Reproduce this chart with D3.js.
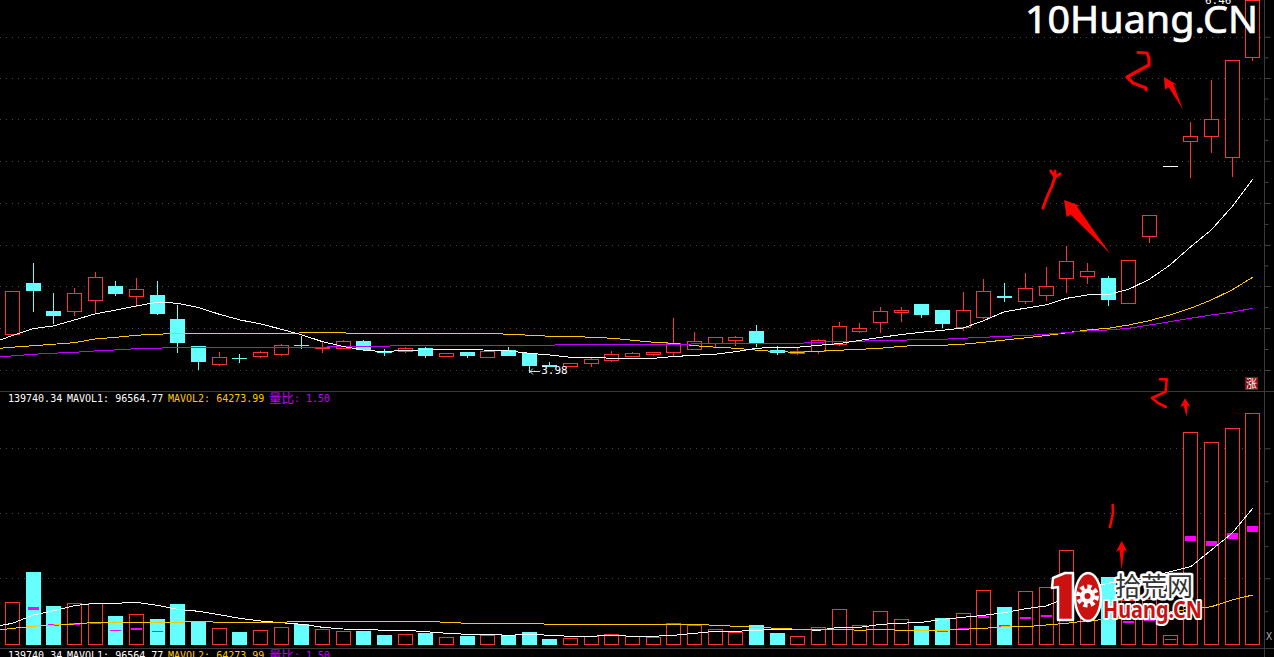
<!DOCTYPE html>
<html lang="en">
<head>
<meta charset="UTF-8">
<title>10Huang volume and price chart</title>
<script src="https://d3js.org/d3.v7.min.js"></script>
<style>
    html, body { margin: 0; padding: 0; background: #000; overflow: hidden; }
    svg { display: block; }
</style>
</head>
<body>
<svg width="1274" height="657"></svg>
<script>
// daily candles
const open = [4.236,4.578,4.385,4.387,4.460,4.558,4.487,4.498,4.332,4.158,4.034,4.076,4.087,4.100,4.163,4.142,4.143,4.185,4.123,4.120,4.143,4.087,4.112,4.080,4.130,4.110,4.027,4.020,4.043,4.063,4.087,4.100,4.116,4.136,4.174,4.194,4.252,4.130,4.105,4.120,4.167,4.254,4.314,4.380,4.438,4.392,4.280,4.347,4.487,4.454,4.496,4.607,4.620,4.605,4.443,4.890,5.358,5.523,5.556,5.416,6.083];
const close = [4.523,4.527,4.360,4.510,4.616,4.505,4.536,4.374,4.180,4.054,4.083,4.073,4.116,4.163,4.160,4.145,4.190,4.138,4.114,4.143,4.094,4.110,4.094,4.123,4.094,4.027,4.024,4.043,4.070,4.103,4.110,4.116,4.176,4.190,4.216,4.216,4.180,4.114,4.123,4.196,4.290,4.276,4.390,4.396,4.367,4.305,4.396,4.523,4.484,4.543,4.556,4.723,4.656,4.467,4.730,5.030,5.358,5.556,5.670,6.063,6.465];
const high = [4.523,4.712,4.512,4.547,4.652,4.592,4.612,4.592,4.432,4.158,4.118,4.105,4.125,4.172,4.225,4.185,4.198,4.198,4.138,4.152,4.152,4.110,4.112,4.123,4.152,4.110,4.052,4.043,4.078,4.125,4.118,4.116,4.343,4.250,4.216,4.225,4.298,4.158,4.143,4.205,4.318,4.312,4.418,4.418,4.438,4.392,4.518,4.603,4.576,4.643,4.685,4.825,4.710,4.625,4.730,5.030,5.358,5.652,5.932,6.063,6.465];
const low = [4.225,4.387,4.307,4.360,4.378,4.494,4.420,4.367,4.114,4.000,4.027,4.047,4.080,4.094,4.140,4.114,4.143,4.127,4.094,4.112,4.080,4.087,4.080,4.080,4.094,3.980,4.020,4.020,4.020,4.052,4.087,4.094,4.094,4.136,4.150,4.158,4.154,4.098,4.098,4.105,4.158,4.245,4.245,4.318,4.345,4.278,4.258,4.338,4.454,4.438,4.460,4.512,4.574,4.427,4.443,4.843,5.358,5.280,5.447,5.287,6.058];

// moving averages start one day before the first candle
const ma1 = [4.178,4.228,4.274,4.292,4.332,4.372,4.398,4.425,4.450,4.443,4.414,4.370,4.332,4.305,4.270,4.232,4.187,4.155,4.130,4.120,4.130,4.132,4.136,4.136,4.130,4.125,4.110,4.098,4.083,4.083,4.076,4.076,4.076,4.088,4.096,4.103,4.120,4.143,4.150,4.150,4.163,4.174,4.196,4.216,4.234,4.250,4.263,4.278,4.328,4.387,4.410,4.432,4.476,4.498,4.500,4.536,4.603,4.698,4.820,4.932,5.087,5.270];
const ma2 = [4.138,4.150,4.160,4.170,4.180,4.205,4.216,4.230,4.236,4.243,4.243,4.243,4.243,4.243,4.243,4.245,4.250,4.245,4.243,4.243,4.243,4.243,4.243,4.243,4.243,4.236,4.230,4.223,4.223,4.216,4.210,4.196,4.183,4.176,4.160,4.150,4.143,4.130,4.120,4.116,4.123,4.130,4.136,4.143,4.156,4.163,4.163,4.170,4.183,4.198,4.212,4.228,4.246,4.265,4.276,4.298,4.327,4.365,4.410,4.465,4.532,4.616];
const ma3 = [4.082,4.092,4.103,4.110,4.116,4.125,4.132,4.140,4.143,4.150,4.150,4.150,4.150,4.150,4.150,4.150,4.150,4.156,4.156,4.156,4.163,4.163,4.163,4.163,4.163,4.163,4.163,4.163,4.170,4.170,4.170,4.170,4.170,4.168,4.172,4.176,4.176,4.176,4.176,4.176,4.183,4.190,4.190,4.196,4.196,4.203,4.203,4.210,4.216,4.223,4.228,4.236,4.248,4.258,4.265,4.276,4.298,4.320,4.343,4.365,4.383,4.410];

const volume = [29190,50400,26600,28490,28490,19600,20790,17500,28000,15610,10990,8400,9590,11690,13790,10500,9100,9100,6300,6790,7700,4690,5600,6300,5810,8400,3500,3990,5390,6790,5390,4690,14490,13090,10290,8190,13300,7700,5390,11690,24290,13090,22890,17290,12600,18200,21490,37590,25900,36890,39690,65590,28000,46690,30800,31500,5810,148190,141190,150710,161490];
const mavol1 = [11900,14490,20300,23310,26810,28490,28490,29190,27090,24290,22890,20510,17990,16100,14910,13790,11690,10500,10290,9590,9590,8610,7490,6790,6790,6090,6790,6090,5390,5390,6090,5390,5390,6090,7490,8890,8890,9590,10290,10290,9590,11690,11690,13790,14490,15190,17290,18690,20090,21910,24710,26600,32200,39200,42490,44800,47110,50610,54110,65800,77490,94990];
const mavol2 = [9100,10990,12390,13300,14000,15190,15190,15190,15190,15190,15890,15190,15190,15190,15190,15890,15890,15890,15890,15890,15890,15890,15190,14490,14490,14490,14490,13790,13790,13790,13790,13790,13790,13790,13790,13090,12390,11690,10990,10290,10290,10290,9590,10290,9590,9590,9590,10290,10990,12110,12110,13300,14490,16310,17290,18550,20300,22400,24500,26110,30800,34300];

// volume ratio marks: [day, top, bottom]
const ratioMarks = [[1,.463,.431],[2,.25,.225],[3,.263,.238],[4,.263,.25],[5,.175,.163],[6,.2,.175],[7,.163,.15],[45,.163,.15],[46,.2,.188],[47,.354,.325],[48,.238,.213],[49,.338,.313],[50,.363,.338],[54,.288,.263],[55,.313,.288],[56,.063,.05],[57,1.35,1.288],[58,1.288,1.225],[59,1.388,1.313],[60,1.475,1.4]];

const priceGrid = [6.22,5.945,5.672,5.392,5.112,4.832,4.558,4.278,3.998];
const priceMinor = [6.083,5.808,5.532,5.252,4.972,4.695,4.418,4.138];
const volGrid = [46000,91500,137000];
const volMinor = [23000,68500,114000];

const RED = '#ff3333', CYAN = '#66ffff', YELLOW = '#ffc800', PURPLE = '#c000ff', LOGO_RED = '#cc1111';

const svg = d3.select('svg');
svg.append('rect').attr('width', 1274).attr('height', 657).attr('fill', '#000');

const days = d3.range(open.length);
const x = d3.scaleLinear().domain([0, 60]).range([12.5, 1252.7]);
const y = d3.scaleLinear().domain([3.98, 6.465]).range([372.7, 0]);
const yVol = d3.scaleLinear().domain([0, 161700]).range([644, 413]);
const yRatio = d3.scaleLinear().domain([0, 1]).range([644, 564]);
const bodyW = 14;

// grid
function grid(values, scale) {
    svg.append('g').selectAll('line').data(values).join('line')
        .attr('x1', 0).attr('x2', 1264)
        .attr('y1', d => Math.round(scale(d)) + .5).attr('y2', d => Math.round(scale(d)) + .5)
        .attr('stroke', '#4a4a4a').attr('stroke-dasharray', '1 5');
}
grid(priceGrid, y);
grid(volGrid, yVol);

// right hand axes, ticks only
function axis(values, scale, size) {
    const g = svg.append('g').attr('transform', 'translate(1264.5,0)')
        .call(d3.axisRight(scale).tickValues(values).tickSize(size).tickFormat(''));
    g.select('.domain').remove();
    g.selectAll('line').attr('stroke', '#444');
}
axis(priceGrid, y, 6);
axis(priceMinor, y, 4);
axis(volGrid, yVol, 6);
axis(volMinor, yVol, 4);

svg.append('line').attr('x1', 1264.5).attr('x2', 1264.5).attr('y1', 0).attr('y2', 657).attr('stroke', '#3a3a3a');
svg.append('line').attr('x1', 0).attr('x2', 1274).attr('y1', 391.5).attr('y2', 391.5).attr('stroke', '#3a3a3a');
svg.append('line').attr('x1', 0).attr('x2', 1274).attr('y1', 648.5).attr('y2', 648.5).attr('stroke', '#3a3a3a');

const isDown = i => close[i] < open[i];
const candleColor = i => close[i] === open[i] ? '#fff' : (isDown(i) ? CYAN : RED);

// candles
const candles = svg.append('g').attr('shape-rendering', 'crispEdges');
candles.selectAll('line').data(days).join('line')
    .attr('x1', i => x(i)).attr('x2', i => x(i))
    .attr('y1', i => y(high[i])).attr('y2', i => y(low[i]))
    .attr('stroke', candleColor);
candles.selectAll('rect').data(days).join('rect')
    .attr('x', i => x(i) - bodyW / 2).attr('width', bodyW)
    .attr('y', i => y(Math.max(open[i], close[i])))
    .attr('height', i => Math.max(y(Math.min(open[i], close[i])) - y(Math.max(open[i], close[i])), .5))
    .attr('fill', i => isDown(i) ? CYAN : '#000')
    .attr('stroke', candleColor);

// moving average lines
function maLine(values, scale, color, parent) {
    const line = d3.line().x((d, i) => x(i - 1)).y(d => scale(d));
    parent.append('path').attr('d', line(values))
        .attr('fill', 'none').attr('stroke', color).attr('stroke-width', 1)
        .attr('shape-rendering', 'crispEdges');
}
const priceLines = svg.append('g');
maLine(ma2, y, YELLOW, priceLines);
maLine(ma3, y, PURPLE, priceLines);
maLine(ma1, y, '#fff', priceLines);

// volume bars
const vols = svg.append('g').attr('shape-rendering', 'crispEdges');
vols.selectAll('rect').data(days).join('rect')
    .attr('x', i => x(i) - bodyW / 2).attr('width', bodyW)
    .attr('y', i => yVol(volume[i]))
    .attr('height', i => yVol(0) - yVol(volume[i]))
    .attr('fill', i => isDown(i) ? CYAN : '#000')
    .attr('stroke', i => isDown(i) ? CYAN : RED);
svg.append('g').attr('shape-rendering', 'crispEdges')
    .selectAll('rect').data(ratioMarks).join('rect')
    .attr('x', d => x(d[0]) - 5.5).attr('width', 11)
    .attr('y', d => yRatio(d[1]))
    .attr('height', d => Math.max(yRatio(d[2]) - yRatio(d[1]), 1))
    .attr('fill', '#ff00ff');
const volLines = svg.append('g');
maLine(mavol1, yVol, '#fff', volLines);
maLine(mavol2, yVol, YELLOW, volLines);

// indicator text rows
function legend(baseline) {
    const g = svg.append('g').attr('font-family', '"DejaVu Sans Mono", monospace').attr('font-size', 10);
    const row = [
        ['139740.34', 8, '#fff'], ['MAVOL1: 96564.77', 67, '#fff'],
        ['MAVOL2: 64273.99', 168, YELLOW], [': 1.50', 294, PURPLE]
    ];
    g.selectAll('text').data(row).join('text')
        .attr('x', d => d[1]).attr('y', baseline).attr('fill', d => d[2]).text(d => d[0]);
    g.append('text').attr('x', 269).attr('y', baseline + 1)
        .attr('font-family', '"Noto Sans CJK SC"').attr('font-size', 12.5)
        .attr('fill', PURPLE).text('量比');
}
legend(402);
legend(659);

// high and low price labels
const mono = '"DejaVu Sans Mono", monospace';
svg.append('text').attr('x', x(25) + 12).attr('y', y(3.98) + 1).attr('font-family', mono)
    .attr('font-size', 11).attr('fill', '#fff').text('3.98');
svg.append('path').attr('d', 'M540,371.5H530M533,368.5L530,371.5L533,374.5').attr('fill', 'none').attr('stroke', '#ddd');
svg.append('text').attr('x', 1205).attr('y', 3.5).attr('font-family', mono)
    .attr('font-size', 11).attr('fill', '#fff').text('6.46');

// small icons on the right
svg.append('rect').attr('x', 1245).attr('y', 377).attr('width', 13).attr('height', 13).attr('fill', '#8a0f0f');
svg.append('text').attr('x', 1251.5).attr('y', 388).attr('text-anchor', 'middle')
    .attr('font-family', '"Noto Sans CJK SC"').attr('font-size', 11).attr('fill', '#fff').text('涨');
svg.append('text').attr('x', 1269).attr('y', 640).attr('text-anchor', 'middle')
    .attr('font-family', mono).attr('font-size', 10).attr('fill', '#aaa').text('X');

// hand drawn red notes
const arrows = [
    'M1064,200L1066.7,217.3L1070.5,214.5L1110,253.5L1077,206.5L1080,205.7Z',
    'M1164,77L1165,90L1168.5,87L1182.7,109.3L1173.5,84L1177.3,85Z',
    'M1185,398.3L1180,407.3L1183.5,405.5L1186.7,416.7L1187.7,405.5L1190.7,407.3Z',
    'M1121.7,541L1116,551.7L1119.5,550L1121.7,570L1124,550L1127.3,551.7Z'
];
svg.append('g').selectAll('path').data(arrows).join('path').attr('d', d => d).attr('fill', '#f00');
const scribbles = [
    ['M1043,208L1047,197L1052,186L1055,177L1055,171M1055,177L1050.7,171M1055,177L1060,174', 3],
    ['M1138,52.5L1147,53L1149,58L1149,65L1138,71L1127,77L1133,83L1146,88L1146,90', 3.2],
    ['M1160,379.3L1166.7,379.3L1165.7,391.7L1152,398L1158,403L1166,407', 2.6],
    ['M1112.7,505L1113,513L1110,527', 2.6]
];
svg.append('g').selectAll('path').data(scribbles).join('path')
    .attr('d', d => d[0]).attr('fill', 'none').attr('stroke', '#f00')
    .attr('stroke-width', d => d[1]).attr('stroke-linecap', 'round').attr('stroke-linejoin', 'round');

// site watermarks
svg.append('text').attr('x', 1025).attr('y', 33).attr('font-family', '"Noto Sans"')
    .attr('font-size', 39).attr('fill', '#fff').attr('stroke', '#fff').attr('stroke-width', .7)
    .attr('textLength', 233).attr('lengthAdjust', 'spacingAndGlyphs')
    .text('10Huang.CN');

const logo = svg.append('g').attr('stroke-linejoin', 'round');
logo.append('text').attr('x', 1115).attr('y', 596).attr('font-family', '"Noto Sans CJK SC"')
    .attr('font-size', 26).attr('textLength', 78).attr('fill', '#333')
    .attr('stroke', '#fff').attr('stroke-width', 5).attr('paint-order', 'stroke').text('拾荒网');
logo.append('text').attr('x', 1103).attr('y', 618).attr('font-family', '"Noto Sans"').attr('font-weight', 'bold')
    .attr('font-size', 23).attr('textLength', 99).attr('lengthAdjust', 'spacingAndGlyphs').attr('fill', LOGO_RED)
    .attr('stroke', '#fff').attr('stroke-width', 4).attr('paint-order', 'stroke').text('Huang.CN');
// the big 10, its zero holds a little gear
logo.append('path').attr('d', 'M1065,573L1053,578L1052,588L1058,587L1058,620L1073,620L1073,573Z')
    .attr('fill', LOGO_RED).attr('stroke', '#fff').attr('stroke-width', 2.5);
logo.append('ellipse').attr('cx', 1088).attr('cy', 597).attr('rx', 13).attr('ry', 24)
    .attr('fill', LOGO_RED).attr('stroke', '#fff').attr('stroke-width', 2.5);
logo.append('circle').attr('cx', 1087.5).attr('cy', 596).attr('r', 9).attr('fill', 'none')
    .attr('stroke', '#fff').attr('stroke-width', 5).attr('stroke-dasharray', '4 3');
logo.append('circle').attr('cx', 1087.5).attr('cy', 596).attr('r', 7.5).attr('fill', '#fff');
logo.append('circle').attr('cx', 1087.5).attr('cy', 596).attr('r', 3).attr('fill', LOGO_RED);
</script>
</body>
</html>
